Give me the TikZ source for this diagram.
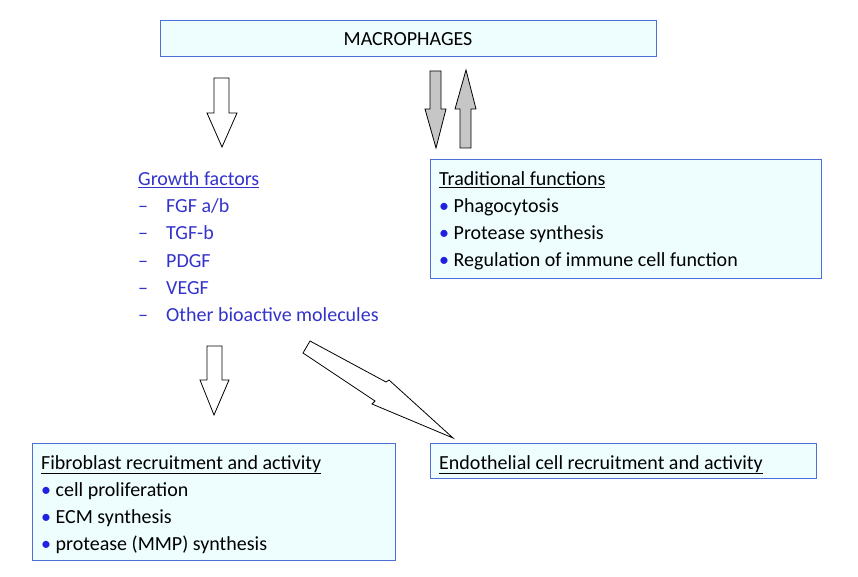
\documentclass[tikz,border=0pt]{standalone}
\usepackage{fontspec}
\setmainfont{Carlito}
\begin{document}
\begin{tikzpicture}[x=1pt,y=-1pt,
 box/.style={draw=boxb,fill=boxf,line width=1pt},
 blk/.style={draw=black,line width=0.8pt,line join=miter},
 t/.style={anchor=base west,inner sep=0,font=\fontsize{20}{22}\selectfont},
 bl/.style={t,text=gfb}]
\definecolor{boxb}{HTML}{4F6FD8}\definecolor{boxf}{HTML}{EEFEFE}\definecolor{gfb}{HTML}{3333CC}\definecolor{bul}{HTML}{2020E0}
\useasboundingbox (0,0) rectangle (858,577);
\newcommand{\bb}{{\color{bul}\textbullet}~}
% boxes
\draw[box] (160,21) rectangle (656,57);
\node[t,anchor=base] (mac) at (408,46) {MACROPHAGES};
\draw[box] (430,160) rectangle (821,278);
\node[t] (tf) at (439,186) {\underline{Traditional functions}};
\node[t] (t1) at (439,213) {\bb Phagocytosis};
\node[t] (t2) at (439,240) {\bb Protease synthesis};
\node[t] (t3) at (439,266) {\bb Regulation of immune cell function};
\draw[box] (32,443) rectangle (395,560);
\node[t] (fb) at (41,469) {\underline{Fibroblast recruitment and activity}};
\node[t] (f1) at (41,496) {\bb cell proliferation};
\node[t] (f2) at (41,523) {\bb ECM synthesis};
\node[t] (f3) at (41,550) {\bb protease (MMP) synthesis};
\draw[box] (430,443) rectangle (816,478);
\node[t] (en) at (439,469) {\underline{Endothelial cell recruitment and activity}};
% growth factors
\node[bl] (gf) at (138,186) {\underline{Growth factors}};
\foreach \y/\s in {213/{FGF a/b},240/TGF-b,267/PDGF,294/VEGF,321/Other bioactive molecules}{
 \node[bl] at (138,\y) {--}; \node[bl] at (166,\y) {\s};}
% arrows
\draw[blk,fill=white] (214,78)--(229,78)--(229,113)--(237,113)--(222,147)--(207,113)--(214,113)--cycle;
\draw[blk,fill=gray!45] (430,71)--(441,71)--(441,109)--(446,109)--(436,148)--(425,109)--(430,109)--cycle;
\draw[blk,fill=gray!45] (460,148)--(471,148)--(471,109)--(476,109)--(466,70)--(455,109)--(460,109)--cycle;
\draw[blk,fill=white] (207,346)--(222,346)--(222,380)--(229,380)--(214,415)--(200,380)--(207,380)--cycle;
\draw[blk,fill=white] (310,341)--(386,382)--(389,380)--(453,438)--(372,404)--(375,401)--(303,353)--cycle;
\end{tikzpicture}
\end{document}
